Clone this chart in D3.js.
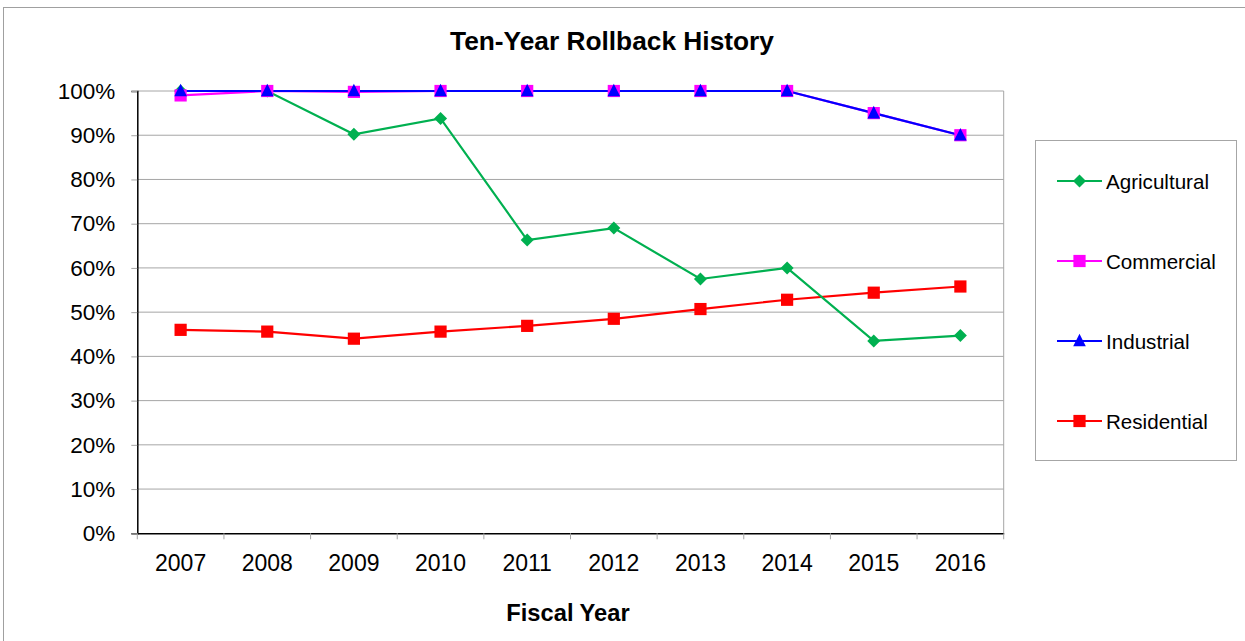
<!DOCTYPE html>
<html><head><meta charset="utf-8">
<script src="https://cdn.jsdelivr.net/npm/d3@7"></script>
<style>body{margin:0;background:#fff;}svg{display:block;font-family:"Liberation Sans",Arial,sans-serif;}</style>
</head><body><svg id="c" width="1245" height="641"></svg>
<script>
const years = ["2007","2008","2009","2010","2011","2012","2013","2014","2015","2016"];
const agricultural = [100,100,90.2,93.8,66.3,69.0,57.5,60.0,43.5,44.7];
const commercial   = [99.0,100,99.8,100,100,100,100,100,95.0,90.0];
const industrial   = [100,100,100,100,100,100,100,100,95.0,90.0];
const residential  = [46.0,45.6,44.0,45.6,46.9,48.5,50.7,52.8,54.4,55.8];
const yTicks = [0,10,20,30,40,50,60,70,80,90,100];
const seriesNames = ["Agricultural","Commercial","Industrial","Residential"];

const series = [
  {name:seriesNames[0], values:agricultural, color:"#00b050", marker:"diamond"},
  {name:seriesNames[1], values:commercial, color:"#ff00ff", marker:"square"},
  {name:seriesNames[2], values:industrial, color:"#0000ff", marker:"triangle"},
  {name:seriesNames[3], values:residential, color:"#ff0000", marker:"square"}
];

const svg = d3.select("#c");
const L=137.3, R=1003.7, T=91, B=533.3;
const FONT="Liberation Sans, Arial, sans-serif";

// outer frame
svg.append("rect").attr("x",3.5).attr("y",7.5).attr("width",1260).attr("height",660)
  .attr("fill","none").attr("stroke","#a0a0a0").attr("stroke-width",1);

const x = d3.scaleBand().domain(years).range([L,R]);
const y = d3.scaleLinear().domain([0,100]).range([B,T]);

// gridlines
svg.append("g").selectAll("line").data(yTicks.filter(d=>d>0)).join("line")
  .attr("x1",L).attr("x2",R).attr("y1",d=>y(d)).attr("y2",d=>y(d))
  .attr("stroke","#a6a6a6").attr("stroke-width",1);
// right border
svg.append("line").attr("x1",R).attr("x2",R).attr("y1",T).attr("y2",B).attr("stroke","#a6a6a6");

// y axis
const yAxis = d3.axisLeft(y).tickValues(yTicks).tickFormat(d=>d+"%").tickSize(6).tickPadding(16);
const gy = svg.append("g").attr("transform",`translate(${L},0)`).call(yAxis);
gy.select(".domain").attr("stroke","#000").attr("stroke-width",1.5);
gy.selectAll(".tick line").attr("stroke","#a6a6a6");
gy.selectAll("text").attr("font-size",22.5).attr("fill","#000").attr("font-family",FONT);

// x axis
const xAxis = d3.axisBottom(x).tickSize(0).tickPadding(21);
const gx = svg.append("g").attr("transform",`translate(0,${B})`).call(xAxis);
gx.select(".domain").attr("stroke","#000").attr("stroke-width",1.5);
gx.selectAll("text").attr("font-size",23).attr("fill","#000").attr("font-family",FONT);
// x tick marks at band boundaries
svg.append("g").selectAll("line").data(years.concat(["end"])).join("line")
  .attr("x1",(d,i)=>L+i*x.step()).attr("x2",(d,i)=>L+i*x.step())
  .attr("y1",B).attr("y2",B+6).attr("stroke","#a6a6a6");

// title
svg.append("text").attr("x",612).attr("y",50).attr("text-anchor","middle")
  .attr("font-size",26.3).attr("font-weight","bold").text("Ten-Year Rollback History");
svg.append("text").attr("x",568).attr("y",621).attr("text-anchor","middle")
  .attr("font-size",23.7).attr("font-weight","bold").text("Fiscal Year");

function drawMarker(g,type,color,cx,cy){
  if(type==="diamond"){
    const s=6.5;
    g.append("path").attr("d",`M${cx},${cy-s}L${cx+s},${cy}L${cx},${cy+s}L${cx-s},${cy}Z`).attr("fill",color);
  } else if(type==="square"){
    const s=6.1;
    g.append("rect").attr("x",cx-s).attr("y",cy-s).attr("width",2*s).attr("height",2*s).attr("fill",color);
  } else {
    const s=6.3;
    g.append("path").attr("d",`M${cx},${cy-s-1}L${cx+s},${cy+s-1}L${cx-s},${cy+s-1}Z`).attr("fill",color);
  }
}

const line = d3.line().x((d,i)=>x(years[i])+x.bandwidth()/2).y(d=>y(d));
const order = [3,0,1,2];
order.forEach(k=>{
  const s=series[k];
  svg.append("path").datum(s.values).attr("d",line).attr("fill","none")
    .attr("stroke",s.color).attr("stroke-width",2.2);
});
order.forEach(k=>{
  const s=series[k];
  const g=svg.append("g");
  s.values.forEach((v,i)=>drawMarker(g,s.marker,s.color,x(years[i])+x.bandwidth()/2,y(v)));
});

// legend
svg.append("rect").attr("x",1035.5).attr("y",140.5).attr("width",201).attr("height",320)
  .attr("fill","#fff").attr("stroke","#a6a6a6");
series.forEach((s,i)=>{
  const cy=181+i*80;
  const g=svg.append("g");
  g.append("line").attr("x1",1057).attr("x2",1102).attr("y1",cy).attr("y2",cy).attr("stroke",s.color).attr("stroke-width",2.2);
  drawMarker(g,s.marker,s.color,1079.5,cy);
  g.append("text").attr("x",1106).attr("y",cy+7.5).attr("font-size",20.6).text(s.name);
});
</script></body></html>
